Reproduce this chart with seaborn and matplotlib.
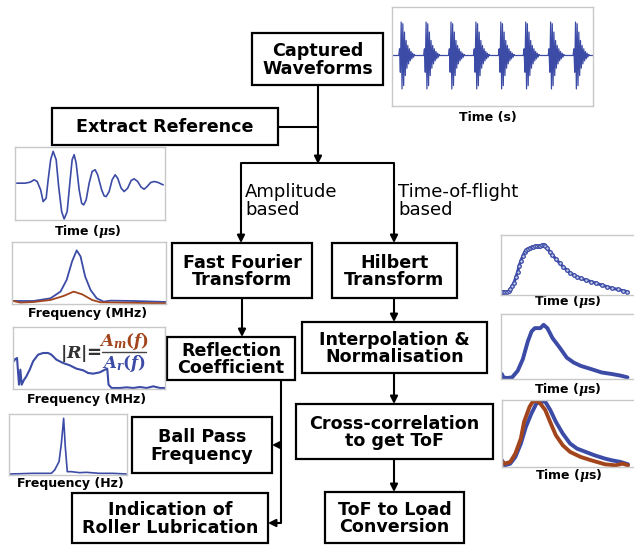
import numpy as np
import matplotlib
matplotlib.use("Agg")
import matplotlib.pyplot as plt
from matplotlib.patches import Rectangle
import seaborn as sns

W, H = 634, 549
BLUE = "#3c4ba6"
BROWN = "#a3451c"
FRAME = "#c8c8c8"

# ---------------- data ----------------
# one ultrasonic burst (alternating half-cycle peaks), repeated for each pass
burst_amp = [0, 0.2, -0.5, 1.0, -1.0, 0.95, -0.9, 0.7, -0.6, 0.45, -0.38, 0.3,
             -0.25, 0.2, -0.16, 0.12, -0.1, 0.07, -0.05, 0.03, 0]
burst_dt = 0.0033           # s between half-cycle samples
burst_period = 0.1          # s between bursts
n_bursts = 8
capture_span = (-0.027, 0.78)

# reference echo
ref_t = [0, 0.17, 0.27, 0.35, 0.41, 0.48, 0.53, 0.59, 0.63, 0.68, 0.73, 0.79,
         0.84, 0.90, 0.95, 1.01, 1.07, 1.11, 1.15, 1.19, 1.25, 1.30, 1.34, 1.39,
         1.45, 1.51, 1.57, 1.62, 1.70, 1.75, 1.79, 1.85, 1.91, 1.97, 2.02, 2.09,
         2.15, 2.22, 2.29, 2.35, 2.42, 2.49, 2.55, 2.61, 2.68, 2.75, 2.83, 2.93]
ref_amp = [0, 0, 3, 10, 5, -20, -55, -45, 10, 70, 95, 70, -10, -85, -107, -85,
           10, 70, 85, 60, -20, -60, -65, -50, 0, 35, 40, 25, -20, -38, -40, -25,
           10, 25, 15, -15, -25, -15, 8, 13, 5, -12, -18, -10, 2, 5, 2, -5]

# spectra of reference and measured echoes
fft_f_ref = [0, 2.8, 5.0, 6.3, 7.1, 7.8, 8.4, 8.9, 9.5, 10.2, 11.0, 11.9, 12.8, 15.8, 20.0]
fft_ref = [2, 2, 10, 30, 65, 120, 153, 135, 75, 35, 10, 0, 3, 2, -1]
fft_f_meas = [0, 1.1, 2.8, 5.0, 6.7, 8.0, 9.1, 10.4, 11.5, 20.0]
fft_meas = [3, -3, -1, 5, 17, 30, 22, 5, -2, -5]

# reflection coefficient spectrum
refl_f = [0.09, 0.31, 0.53, 0.79, 0.97, 1.14, 1.41, 1.76, 2.20, 2.64, 3.30, 3.96,
          4.62, 5.05, 5.71, 6.59, 7.47, 8.35, 9.23, 9.89, 10.55, 11.43, 12.09,
          12.40, 12.57, 12.97, 14.07, 14.95, 15.82, 16.70, 17.58, 18.46, 19.34, 20.0]
refl_r = [83, 90, 93, 13, 58, 13, 26, 38, 58, 83, 103, 108, 108, 103, 88, 78, 71,
          61, 56, 48, 46, 50, 58, 61, 13, 3, 3, 5, 3, 6, 3, 8, 3, 3]

# ball pass spectrum
bpf_f = [0.6, 20.3, 35.9, 38.7, 42.4, 44.4, 46.3, 47.7, 49.4, 52.8, 59.9, 65.5, 76.8, 88.1, 99.4]
bpf_amp = [3, 5, 5, 15, 40, 95, 170, 85, 10, 10, 7, 8, 5, 5, 3]

# Hilbert envelope
hil_t = [0.02, 0.05, 0.09, 0.13, 0.17, 0.20, 0.24, 0.28, 0.32, 0.36, 0.39, 0.43,
         0.47, 0.51, 0.55, 0.58, 0.62, 0.66, 0.70, 0.73, 0.77, 0.81, 0.85, 0.89,
         0.92, 0.96, 1.00, 1.05, 1.11, 1.19, 1.27, 1.34, 1.42, 1.49, 1.57, 1.64,
         1.72, 1.83, 1.95, 2.06, 2.17, 2.29, 2.40, 2.52, 2.63, 2.73]
hil_env = [8, 8, 8, 9, 12, 17, 27, 37, 53, 70, 87, 103, 117, 129, 135, 139, 141,
           143, 145, 146, 147, 147, 148, 150, 151, 147, 140, 130, 120, 107, 95, 85,
           75, 67, 60, 55, 50, 45, 40, 35, 30, 25, 20, 17, 13, 10]

# interpolated, normalised envelope
int_t = [0.02, 0.05, 0.13, 0.24, 0.36, 0.47, 0.58, 0.66, 0.73, 0.85, 0.92, 1.00,
         1.11, 1.27, 1.42, 1.57, 1.72, 1.95, 2.17, 2.40, 2.59, 2.73]
int_env = [13, 3, 1, 3, 23, 58, 113, 143, 153, 153, 163, 153, 123, 93, 63, 48, 38,
           28, 18, 13, 8, 3]

# envelopes compared in the cross-correlation
xc_t_ref = [0.00, 0.06, 0.18, 0.29, 0.41, 0.52, 0.64, 0.75, 0.86, 0.94, 1.05, 1.17,
            1.32, 1.48, 1.63, 1.82, 2.01, 2.24, 2.39, 2.58, 2.74]
xc_ref = [20, 5, 10, 30, 70, 120, 160, 190, 195, 195, 170, 135, 100, 70, 55, 45, 35,
          25, 20, 15, 8]
xc_t_meas = [-0.02, 0.06, 0.18, 0.29, 0.41, 0.48, 0.60, 0.67, 0.75, 0.83, 0.94, 1.06,
             1.17, 1.32, 1.48, 1.71, 1.94, 2.24, 2.47, 2.62, 2.74]
xc_meas = [18, 10, 15, 40, 85, 135, 180, 195, 198, 190, 170, 130, 95, 65, 45, 30, 20,
           8, 5, 10, 5]

# ---------------- style ----------------
sns.set_theme(style="white")
plt.rcParams["font.family"] = ["DejaVu Sans"]
plt.rcParams["text.color"] = "black"
plt.rcParams["mathtext.fontset"] = "custom"
plt.rcParams["mathtext.rm"] = "DejaVu Serif:bold"
plt.rcParams["mathtext.it"] = "DejaVu Serif:italic:bold"
plt.rcParams["mathtext.bf"] = "DejaVu Serif:bold"

fig = plt.figure(figsize=(W / 100, H / 100), dpi=100)
fig.patch.set_facecolor("white")
ax = fig.add_axes([0, 0, 1, 1])
ax.set_xlim(0, W)
ax.set_ylim(H, 0)
ax.axis("off")

# ---------------- flowchart boxes ----------------
boxes = [
    (252, 33, 383, 85, "Captured\nWaveforms"),
    (52, 108, 278, 145, "Extract Reference"),
    (172, 243, 312, 298, "Fast Fourier\nTransform"),
    (332, 243, 457, 298, "Hilbert\nTransform"),
    (167, 337, 295, 380, "Reflection\nCoefficient"),
    (302, 322, 487, 373, "Interpolation &\nNormalisation"),
    (296, 404, 493, 459, "Cross-correlation\nto get ToF"),
    (132, 417, 272, 473, "Ball Pass\nFrequency"),
    (72, 493, 268, 543, "Indication of\nRoller Lubrication"),
    (325, 492, 464, 543, "ToF to Load\nConversion"),
]
for x0, y0, x1, y1, label in boxes:
    ax.add_patch(Rectangle((x0, y0), x1 - x0, y1 - y0, facecolor="white",
                           edgecolor="black", lw=1.6, zorder=3))
    ax.text((x0 + x1) / 2, (y0 + y1) / 2 + 1, label, ha="center", va="center",
            fontsize=12.6, fontweight="bold", linespacing=0.93, zorder=4)

LW = 1.5


def seg(pts):
    xs, ys = zip(*pts)
    ax.plot(xs, ys, color="black", lw=LW, solid_capstyle="butt", zorder=2)


def arrow(p0, p1):
    ax.annotate("", xy=p1, xytext=p0,
                arrowprops=dict(arrowstyle="-|>", color="black", lw=LW,
                                mutation_scale=11, shrinkA=0, shrinkB=0), zorder=2)


seg([(278, 127), (318, 127)])
arrow((318, 85), (318, 164))
seg([(241, 163), (394, 163)])
arrow((241, 163), (241, 243))
arrow((394, 163), (394, 243))
arrow((242, 298), (242, 337))
arrow((394, 298), (394, 322))
arrow((394, 373), (394, 404))
arrow((394, 459), (394, 492))
seg([(281, 380), (281, 523)])
arrow((281, 445), (272, 445))
arrow((281, 523), (268, 523))

ax.text(245, 201, "Amplitude\nbased", ha="left", va="center", fontsize=13,
        linespacing=0.93)
ax.text(398, 201, "Time-of-flight\nbased", ha="left", va="center", fontsize=13,
        linespacing=0.93)


# ---------------- inset plots ----------------
def inset(x0, y0, x1, y1, xlim, ylim):
    a = fig.add_axes([x0 / W, 1 - y1 / H, (x1 - x0) / W, (y1 - y0) / H])
    a.set_facecolor("white")
    for s in a.spines.values():
        s.set_visible(True)
        s.set_color(FRAME)
        s.set_linewidth(1.0)
    a.set_xlim(*xlim)
    a.set_ylim(*ylim)
    return a


def finish(a):
    a.set_xticks([])
    a.set_yticks([])
    a.set_xlabel("")
    a.set_ylabel("")
    if a.get_legend() is not None:
        a.get_legend().remove()


def caption(x, y, s):
    ax.text(x, y, s, ha="center", va="center", fontsize=9, fontweight="bold")


# captured waveforms
cap_t = [capture_span[0]]
cap_a = [0.0]
for k in range(n_bursts):
    for i, v in enumerate(burst_amp):
        cap_t.append(k * burst_period + i * burst_dt)
        cap_a.append(v)
cap_t.append(capture_span[1])
cap_a.append(0.0)
a = inset(392, 7, 593, 106, capture_span, (-1.51, 1.45))
sns.lineplot(x=cap_t, y=cap_a, ax=a, color=BLUE, lw=0.9, sort=False, estimator=None)
finish(a)
caption(488, 118, "Time (s)")

# reference echo
a = inset(15, 147, 165, 220, (-0.033, 2.967), (-110, 108))
sns.lineplot(x=ref_t, y=ref_amp, ax=a, color=BLUE, lw=1.2, sort=False, estimator=None)
finish(a)
caption(88, 231, r"Time ($\mu$s)")

# spectra
a = inset(12, 242, 166, 304, (0, 20), (-7, 178))
sns.lineplot(x=fft_f_ref, y=fft_ref, ax=a, color=BLUE, lw=1.3, sort=False, estimator=None)
sns.lineplot(x=fft_f_meas, y=fft_meas, ax=a, color=BROWN, lw=1.3, sort=False, estimator=None)
finish(a)
caption(88, 313, "Frequency (MHz)")

# reflection coefficient, with its defining ratio
a = inset(13, 327, 165, 389, (0, 20), (0, 186))
sns.lineplot(x=refl_f, y=refl_r, ax=a, color=BLUE, lw=1.5, sort=False, estimator=None)
finish(a)
caption(87, 400, "Frequency (MHz)")
a.text(73, 354, r"$|R|$", ha="center", va="center", fontsize=12.5, color="#333333",
       transform=ax.transData)
a.text(94, 353, "=", ha="center", va="center", fontsize=13, color="#333333",
       fontweight="bold", transform=ax.transData)
a.plot([102, 146], [352, 352], color="#444444", lw=1.0, transform=ax.transData,
       clip_on=False)
a.text(124, 342, r"$A_m(f)$", ha="center", va="center", fontsize=12, color=BROWN,
       transform=ax.transData)
a.text(124, 363, r"$A_r(f)$", ha="center", va="center", fontsize=12, color=BLUE,
       transform=ax.transData)

# ball pass spectrum
a = inset(9, 414, 127, 475, (0, 100), (0, 183))
sns.lineplot(x=bpf_f, y=bpf_amp, ax=a, color=BLUE, lw=1.2, sort=False, estimator=None)
finish(a)
caption(70, 483, "Frequency (Hz)")

# Hilbert envelope
a = inset(501, 235, 640, 295, (0, 3.0), (0, 180))
sns.lineplot(x=hil_t, y=hil_env, ax=a, color=BLUE, lw=2.2, sort=False, estimator=None,
             marker="o", markersize=2.6, markerfacecolor="#c8cdea",
             markeredgecolor=BLUE, markeredgewidth=0.9)
finish(a)
caption(568, 302, r"Time ($\mu$s)")

# interpolated envelope
a = inset(501, 314, 640, 379, (0, 3.0), (-2, 196))
sns.lineplot(x=int_t, y=int_env, ax=a, color=BLUE, lw=2.8, sort=False, estimator=None)
finish(a)
caption(568, 390, r"Time ($\mu$s)")

# cross-correlated envelopes
a = inset(502, 400, 640, 467, (0, 3.0), (0, 200))
sns.lineplot(x=xc_t_ref, y=xc_ref, ax=a, color=BLUE, lw=2.8, sort=False, estimator=None)
sns.lineplot(x=xc_t_meas, y=xc_meas, ax=a, color=BROWN, lw=2.8, sort=False, estimator=None)
finish(a)
caption(569, 476, r"Time ($\mu$s)")

fig.savefig("out.png", dpi=100, facecolor="white")
